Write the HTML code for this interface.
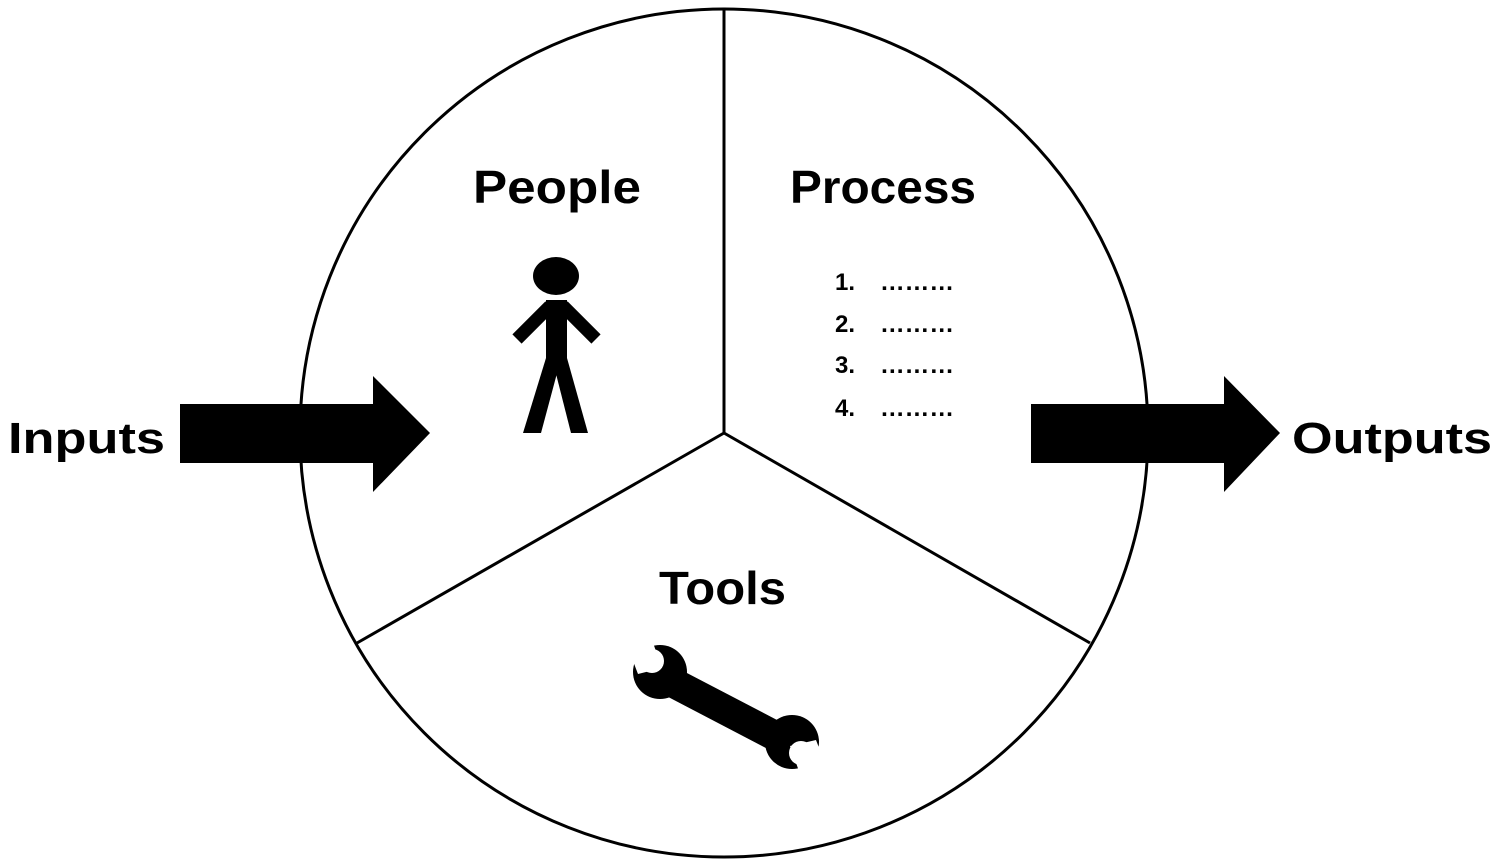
<!DOCTYPE html>
<html><head><style>html,body{margin:0;padding:0;background:#fff}svg{display:block}</style></head>
<body>
<svg width="1499" height="864" viewBox="0 0 1499 864" xmlns="http://www.w3.org/2000/svg" font-family="Liberation Sans, sans-serif" font-weight="bold">
<circle cx="724" cy="433" r="424" fill="#fff" stroke="#000" stroke-width="3"/>
<line x1="724" y1="9" x2="724" y2="433" stroke="#000" stroke-width="3"/>
<line x1="724" y1="433" x2="357" y2="643" stroke="#000" stroke-width="3"/>
<line x1="724" y1="433" x2="1090" y2="643" stroke="#000" stroke-width="3"/>
<polygon points="180,404 373,404 373,376 430,433 373,492 373,463 180,463" fill="#000"/>
<polygon points="1031,404 1224,404 1224,376 1280,433 1224,492 1224,463 1031,463" fill="#000"/>
<text x="8" y="453" font-size="44" textLength="157" lengthAdjust="spacingAndGlyphs">Inputs</text>
<text x="1292" y="453" font-size="44" textLength="200" lengthAdjust="spacingAndGlyphs">Outputs</text>
<text x="473" y="203" font-size="46" textLength="168" lengthAdjust="spacingAndGlyphs">People</text>
<text x="790" y="203" font-size="46" textLength="186" lengthAdjust="spacingAndGlyphs">Process</text>
<text x="659" y="604" font-size="46" textLength="127" lengthAdjust="spacingAndGlyphs">Tools</text>
<g font-size="24">
<text x="835" y="290">1.</text><text x="880" y="290" textLength="74" lengthAdjust="spacingAndGlyphs">………</text>
<text x="835" y="332">2.</text><text x="880" y="332" textLength="74" lengthAdjust="spacingAndGlyphs">………</text>
<text x="835" y="373">3.</text><text x="880" y="373" textLength="74" lengthAdjust="spacingAndGlyphs">………</text>
<text x="835" y="416">4.</text><text x="880" y="416" textLength="74" lengthAdjust="spacingAndGlyphs">………</text>
</g>
<ellipse cx="556" cy="276" rx="23" ry="19" fill="#000"/>
<rect x="546" y="300" width="21" height="66" fill="#000"/>
<line x1="550" y1="306" x2="517" y2="339" stroke="#000" stroke-width="13"/>
<line x1="563" y1="306" x2="596" y2="339" stroke="#000" stroke-width="13"/>
<polygon points="546,358 560,362 541,433 523,433" fill="#000"/>
<polygon points="567,358 553,362 571,433 588,433" fill="#000"/>
<line x1="668" y1="680" x2="783" y2="740" stroke="#000" stroke-width="30"/>
<circle cx="660" cy="672" r="27" fill="#000"/>
<circle cx="792" cy="742" r="27" fill="#000"/>
<polygon points="652,640 662,668 638,674 628,648" fill="#fff"/>
<circle cx="652" cy="661" r="12" fill="#fff"/>
<circle cx="801" cy="753" r="12" fill="#fff"/>
<polygon points="800,774 790,746 816,740 826,766" fill="#fff"/>
</svg>
</body></html>
